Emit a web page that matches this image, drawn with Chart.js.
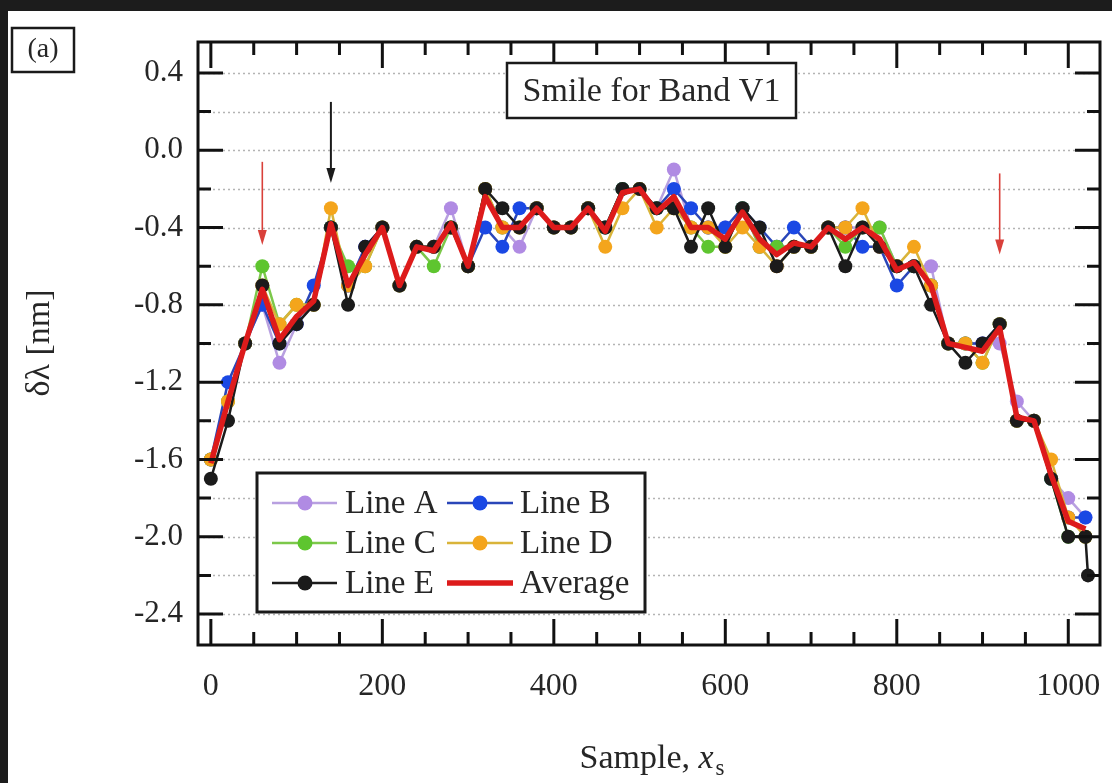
<!DOCTYPE html>
<html><head><meta charset="utf-8">
<script src="https://cdn.jsdelivr.net/npm/chart.js@4/dist/chart.umd.min.js"></script>
<style>
html,body{margin:0;padding:0;background:#1c1c1c;overflow:hidden;}
canvas{display:block}
</style></head><body>
<canvas id="c" width="1112" height="783"></canvas>
<script>
// ---- data ----
const samples = [0,20,40,60,80,100,120,140,160,180,200,220,240,260,280,300,320,340,360,380,400,420,440,460,480,500,520,540,560,580,600,620,640,660,680,700,720,740,760,780,800,820,840,860,880,900,920,940,960,980,1000,1020];
const samplesE = [0,20,40,60,80,100,120,140,160,180,200,220,240,260,280,300,320,340,360,380,400,420,440,460,480,500,520,540,560,580,600,620,640,660,680,700,720,740,760,780,800,820,840,860,880,900,920,940,960,980,1000,1020,1023];
const lineA = [-1.6,-1.3,-1.0,-0.8,-1.1,-0.9,-0.8,-0.4,-0.7,-0.5,-0.4,-0.7,-0.5,-0.5,-0.3,-0.6,-0.2,-0.4,-0.5,-0.3,-0.4,-0.4,-0.3,-0.4,-0.2,-0.2,-0.3,-0.1,-0.4,-0.4,-0.4,-0.3,-0.5,-0.5,-0.5,-0.5,-0.4,-0.4,-0.4,-0.4,-0.6,-0.6,-0.6,-1.0,-1.0,-1.0,-1.0,-1.3,-1.4,-1.7,-1.8,-1.9];
const lineB = [-1.6,-1.2,-1.0,-0.8,-1.0,-0.9,-0.7,-0.4,-0.7,-0.5,-0.4,-0.7,-0.5,-0.5,-0.4,-0.6,-0.4,-0.5,-0.3,-0.3,-0.4,-0.4,-0.3,-0.4,-0.2,-0.2,-0.3,-0.2,-0.3,-0.4,-0.4,-0.3,-0.4,-0.5,-0.4,-0.5,-0.4,-0.4,-0.5,-0.5,-0.7,-0.6,-0.7,-1.0,-1.0,-1.0,-0.9,-1.4,-1.4,-1.7,-1.9,-1.9];
const lineC = [-1.6,-1.3,-1.0,-0.6,-0.9,-0.8,-0.8,-0.4,-0.6,-0.6,-0.4,-0.7,-0.5,-0.6,-0.4,-0.6,-0.2,-0.4,-0.4,-0.3,-0.4,-0.4,-0.3,-0.4,-0.2,-0.2,-0.3,-0.3,-0.4,-0.5,-0.5,-0.3,-0.5,-0.5,-0.5,-0.5,-0.4,-0.5,-0.4,-0.4,-0.6,-0.6,-0.7,-1.0,-1.0,-1.1,-0.9,-1.4,-1.4,-1.7,-2.0,-2.0];
const lineD = [-1.6,-1.3,-1.0,-0.7,-0.9,-0.8,-0.8,-0.3,-0.7,-0.6,-0.4,-0.7,-0.5,-0.5,-0.4,-0.6,-0.2,-0.4,-0.4,-0.3,-0.4,-0.4,-0.3,-0.5,-0.3,-0.2,-0.4,-0.3,-0.4,-0.4,-0.5,-0.4,-0.5,-0.6,-0.5,-0.5,-0.4,-0.4,-0.3,-0.5,-0.6,-0.5,-0.7,-1.0,-1.0,-1.1,-0.9,-1.4,-1.4,-1.6,-1.9,-2.0];
const lineE = [-1.7,-1.4,-1.0,-0.7,-1.0,-0.9,-0.8,-0.4,-0.8,-0.5,-0.4,-0.7,-0.5,-0.5,-0.4,-0.6,-0.2,-0.3,-0.4,-0.3,-0.4,-0.4,-0.3,-0.4,-0.2,-0.2,-0.3,-0.3,-0.5,-0.3,-0.5,-0.3,-0.4,-0.6,-0.5,-0.5,-0.4,-0.6,-0.4,-0.5,-0.6,-0.6,-0.8,-1.0,-1.1,-1.0,-0.9,-1.4,-1.4,-1.7,-2.0,-2.0,-2.2];
const average = [-1.62,-1.30,-1.00,-0.72,-0.98,-0.86,-0.78,-0.38,-0.70,-0.54,-0.40,-0.70,-0.50,-0.52,-0.38,-0.60,-0.24,-0.40,-0.40,-0.30,-0.40,-0.40,-0.30,-0.42,-0.22,-0.20,-0.32,-0.24,-0.40,-0.40,-0.46,-0.32,-0.46,-0.54,-0.48,-0.50,-0.40,-0.46,-0.40,-0.46,-0.62,-0.58,-0.70,-1.00,-1.02,-1.04,-0.92,-1.38,-1.40,-1.68,-1.92,-1.96];
const seriesLabels = ['Line A','Line B','Line C','Line D','Line E','Average'];
const xTickLabels = [0,200,400,600,800,1000];
const yTickLabels = [-2.4,-2.0,-1.6,-1.2,-0.8,-0.4,0.0,0.4];

// ---- styles / annotations ----
const COLORS = ['#b08be3','#1a48e4','#5ec52f','#f4a51c','#1b1b1b','#dd1b1b'];
const LINECOLORS = ['#b8a0e0','#2a46b8','#7cc84a','#d9b43a','#1b1b1b','#dd1b1b'];
const SERIF = '"Liberation Serif","Times New Roman",serif';
const TXT = '#262626';
const arrows = [
  {x:140, yFrom:0.25, yTo:-0.17, color:'#1b1b1b', w:2},
  {x:60,  yFrom:-0.06, yTo:-0.49, color:'#d9403a', w:1.6},
  {x:920, yFrom:-0.12, yTo:-0.54, color:'#d9403a', w:1.6}
];

function mk(i, ys, xs) {
  return {
    label: seriesLabels[i],
    data: ys.map((y,k)=>({x: xs[k], y})),
    borderColor: LINECOLORS[i], backgroundColor: COLORS[i],
    pointBackgroundColor: COLORS[i], pointBorderColor: COLORS[i],
    borderWidth: 2.5, pointRadius: 7, pointHoverRadius: 7, pointBorderWidth: 0,
    tension: 0, order: 6 - i
  };
}
const datasets = [
  mk(0, lineA, samples), mk(1, lineB, samples), mk(2, lineC, samples),
  mk(3, lineD, samples), mk(4, lineE, samplesE),
  {label: seriesLabels[5], data: average.map((y,k)=>({x: samples[k], y})),
   borderColor: COLORS[5], backgroundColor: COLORS[5], borderWidth: 5.5,
   pointRadius: 0, tension: 0, order: 0, borderJoinStyle: 'round'}
];

const decor = {
  id: 'decor',
  beforeDraw(chart) {
    const c = chart.ctx, W = chart.width, H = chart.height;
    c.save();
    c.fillStyle = '#1c1c1c'; c.fillRect(0,0,W,H);
    c.fillStyle = '#ffffff'; c.fillRect(8,11,W-8,H-11);
    c.restore();
  },
  beforeDatasetsDraw(chart) {
    const c = chart.ctx, a = chart.chartArea, ys = chart.scales.y;
    c.save();
    c.strokeStyle = '#b4b4b4'; c.lineWidth = 1.5; c.setLineDash([2,3]);
    for (let v = -2.4; v <= 0.41; v += 0.2) {
      const p = Math.round(ys.getPixelForValue(v)) + 0.5;
      c.beginPath(); c.moveTo(a.left, p); c.lineTo(a.right, p); c.stroke();
    }
    c.restore();
  },
  afterDatasetsDraw(chart) {
    const c = chart.ctx, a = chart.chartArea, xs = chart.scales.x, ys = chart.scales.y;
    c.save();
    c.strokeStyle = '#111'; c.lineWidth = 3; c.setLineDash([]);
    for (let v = -2.4; v <= 0.41; v += 0.2) {
      const p = ys.getPixelForValue(v);
      const major = Math.abs(Math.round(v*10) % 4) === 0;
      const L = major ? 25 : 13;
      c.beginPath(); c.moveTo(a.left, p); c.lineTo(a.left+L, p);
      c.moveTo(a.right, p); c.lineTo(a.right-L, p); c.stroke();
    }
    for (let v = 0; v <= 1000; v += 50) {
      const p = xs.getPixelForValue(v);
      const L = (v % 200 === 0) ? 26 : 13;
      c.beginPath(); c.moveTo(p, a.bottom); c.lineTo(p, a.bottom-L);
      c.moveTo(p, a.top); c.lineTo(p, a.top+L); c.stroke();
    }
    c.lineWidth = 3;
    c.strokeRect(a.left, a.top, a.right-a.left, a.bottom-a.top);
    arrows.forEach(ar => {
      const x = xs.getPixelForValue(ar.x), y1 = ys.getPixelForValue(ar.yFrom), y2 = ys.getPixelForValue(ar.yTo);
      c.strokeStyle = ar.color; c.fillStyle = ar.color; c.lineWidth = ar.w;
      c.beginPath(); c.moveTo(x, y1); c.lineTo(x, y2-10); c.stroke();
      c.beginPath(); c.moveTo(x, y2); c.lineTo(x-4.5, y2-15); c.lineTo(x+4.5, y2-15); c.closePath(); c.fill();
    });
    c.fillStyle = '#fff'; c.fillRect(507, 63, 289, 55);
    c.strokeStyle = '#1a1a1a'; c.lineWidth = 2.5; c.strokeRect(507, 63, 289, 55);
    c.fillStyle = TXT; c.font = '34px ' + SERIF; c.textAlign = 'center'; c.textBaseline = 'middle';
    c.fillText('Smile for Band V1', 651.5, 92);
    c.fillStyle = '#fff'; c.fillRect(257, 473, 388, 139);
    c.strokeStyle = '#1a1a1a'; c.lineWidth = 3; c.strokeRect(257, 473, 388, 139);
    const rows = [503, 543, 583], cols = [[272,337,305,345],[447,513,480,520]];
    for (let i = 0; i < 6; i++) {
      const r = rows[Math.floor(i/2)], col = cols[i%2];
      if (i < 5) {
        c.strokeStyle = LINECOLORS[i]; c.lineWidth = 2.5;
        c.beginPath(); c.moveTo(col[0], r); c.lineTo(col[1], r); c.stroke();
        c.fillStyle = COLORS[i]; c.beginPath(); c.arc(col[2], r, 7.5, 0, Math.PI*2); c.fill();
      } else {
        c.strokeStyle = COLORS[i]; c.lineWidth = 5.5;
        c.beginPath(); c.moveTo(col[0], r); c.lineTo(col[1], r); c.stroke();
      }
      c.fillStyle = TXT; c.font = '33px ' + SERIF; c.textAlign = 'left'; c.textBaseline = 'middle';
      c.fillText(seriesLabels[i], col[3], r + 1);
    }
    c.fillStyle = '#fff'; c.fillRect(12, 28, 62, 44);
    c.strokeStyle = '#1a1a1a'; c.lineWidth = 2.5; c.strokeRect(12, 28, 62, 44);
    c.fillStyle = TXT; c.font = '28px ' + SERIF; c.textAlign = 'center'; c.textBaseline = 'middle';
    c.fillText('(a)', 43, 50);
    c.font = '34px ' + SERIF; c.fillStyle = TXT;
    c.save(); c.translate(40, 343); c.rotate(-Math.PI/2);
    c.textAlign = 'center'; c.textBaseline = 'middle'; c.fillText('\u03b4\u03bb [nm]', 0, 0);
    c.restore();
    c.textAlign = 'left'; c.textBaseline = 'alphabetic';
    const t1 = 'Sample, ';
    c.font = '34px ' + SERIF; const w1 = c.measureText(t1).width;
    c.font = 'italic 34px ' + SERIF; const w2 = c.measureText('x').width;
    c.font = '23px ' + SERIF; const w3 = c.measureText('s').width;
    let x0 = 652 - (w1 + w2 + w3 + 2) / 2, base = 768;
    c.font = '34px ' + SERIF; c.fillText(t1, x0, base);
    c.font = 'italic 34px ' + SERIF; c.fillText('x', x0 + w1, base);
    c.font = '23px ' + SERIF; c.fillText('s', x0 + w1 + w2 + 2, base + 7);
    c.restore();
  }
};

new Chart(document.getElementById('c'), {
  type: 'line',
  data: { datasets },
  options: {
    responsive: false, animation: false, devicePixelRatio: 1,
    layout: { padding: { left: 0, top: 42, right: 12, bottom: 0 } },
    plugins: { legend: { display: false }, tooltip: { enabled: false }, title: { display: false } },
    scales: {
      x: {
        type: 'linear', min: -15, max: 1037,
        grid: { display: false, drawTicks: false }, border: { display: false },
        afterBuildTicks: s => { s.ticks = xTickLabels.map(v => ({ value: v })); },
        afterFit: s => { s.height = 138; s.paddingLeft = 0; s.paddingRight = 0; },
        ticks: { padding: 22, maxRotation: 0, autoSkip: false, color: TXT,
                 font: { family: SERIF, size: 32 }, callback: v => String(v) }
      },
      y: {
        type: 'linear', min: -2.56, max: 0.56,
        grid: { display: false, drawTicks: false }, border: { display: false },
        afterBuildTicks: s => { s.ticks = yTickLabels.map(v => ({ value: v })); },
        afterFit: s => { s.width = 198; s.paddingTop = 0; s.paddingBottom = 0; },
        ticks: { padding: 15, autoSkip: false, color: TXT,
                 font: { family: SERIF, size: 31 }, callback: v => Number(v).toFixed(1) }
      }
    }
  },
  plugins: [decor]
});
</script>
</body></html>
